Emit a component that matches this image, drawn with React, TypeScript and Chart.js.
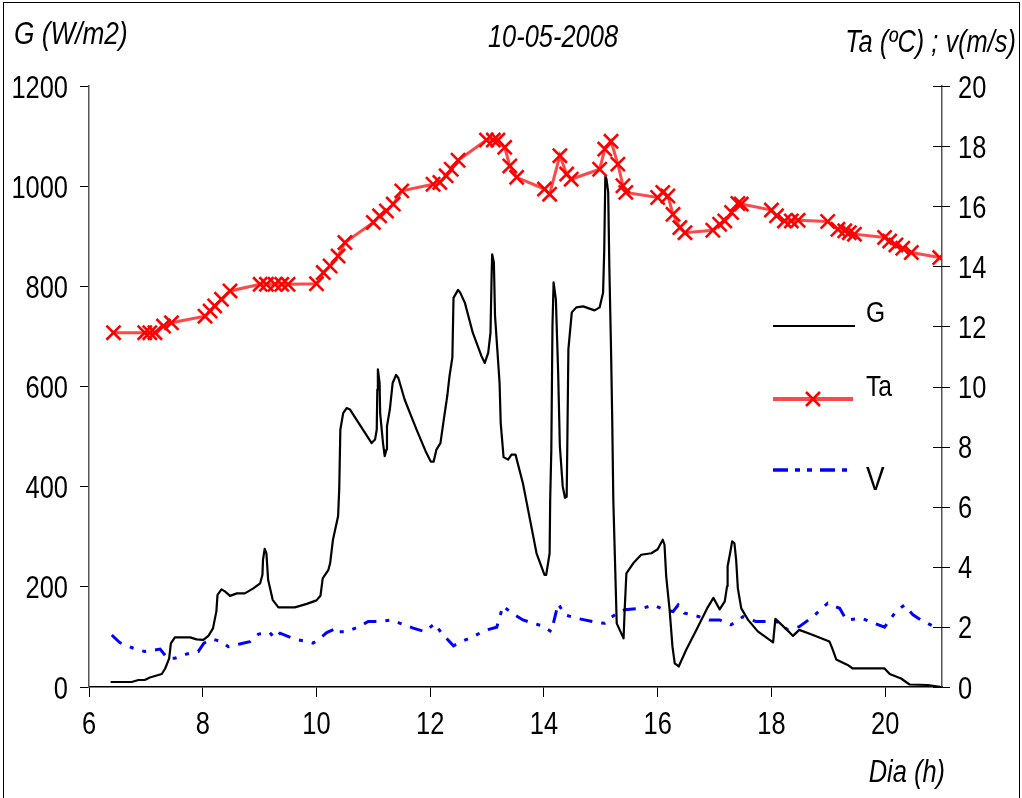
import React, { useEffect, useRef } from "react";
import { Chart, registerables } from "chart.js";

Chart.register(...registerables);

// ---- data (hours of the day) ----
const gHours = [
  6.38, 6.75, 6.87, 6.98, 7.07, 7.28, 7.34, 7.41, 7.44, 7.51, 7.78, 7.89, 8.01, 8.1, 8.18, 8.24, 8.26, 8.33, 8.39, 8.48,
  8.6, 8.74, 8.89, 9.01, 9.05, 9.06, 9.09, 9.12, 9.15, 9.19, 9.23, 9.33, 9.62, 9.83, 10.0, 10.07, 10.11, 10.21, 10.24, 10.29,
  10.38, 10.4, 10.42, 10.47, 10.53, 10.59, 10.97, 11.03, 11.06, 11.07, 11.08, 11.11, 11.12, 11.17, 11.2, 11.23, 11.24, 11.29,
  11.34, 11.4, 11.44, 11.55, 11.76, 11.93, 12.01, 12.06, 12.11, 12.18, 12.23, 12.3, 12.34, 12.39, 12.41, 12.49, 12.53, 12.61,
  12.75, 12.9, 12.96, 13.02, 13.06, 13.08, 13.09, 13.12, 13.14, 13.18, 13.22, 13.24, 13.29, 13.37, 13.43, 13.5, 13.63, 13.87,
  14.01, 14.04, 14.1, 14.11, 14.13, 14.15, 14.17, 14.21, 14.25, 14.28, 14.33, 14.37, 14.4, 14.41, 14.43, 14.49, 14.57, 14.69,
  14.89, 14.98, 15.04, 15.06, 15.08, 15.1, 15.13, 15.15, 15.18, 15.2, 15.22, 15.25, 15.28, 15.4, 15.42, 15.45, 15.57, 15.71,
  15.89, 16.0, 16.09, 16.12, 16.15, 16.21, 16.26, 16.3, 16.37, 16.5, 16.68, 16.88, 16.98, 17.09, 17.18, 17.22, 17.23, 17.28,
  17.31, 17.35, 17.38, 17.41, 17.47, 17.59, 17.76, 18.03, 18.07, 18.32, 18.38, 18.49, 18.73, 19.02, 19.07, 19.14, 19.34, 19.43,
  19.99, 20.08, 20.28, 20.43, 20.75, 20.99,
];
const gValues = [
  10, 10, 14, 14, 19, 26, 37, 57, 87, 99, 99, 95, 94, 102, 117, 151, 184, 195, 191, 182,
  187, 187, 197, 207, 224, 254, 276, 267, 214, 194, 174, 159, 159, 166, 173, 182, 217, 234, 247, 294,
  341, 394, 514, 547, 557, 554, 487, 494, 514, 594, 634, 607, 547, 487, 461, 474, 521, 554,
  607, 623, 617, 574, 514, 468, 450, 450, 474, 487, 527, 581, 621, 658, 777, 793, 787, 767,
  707, 661, 647, 667, 707, 821, 864, 847, 741, 674, 607, 527, 459, 454, 464, 464, 407, 267,
  224, 224, 267, 374, 474, 721, 808, 774, 628, 481, 401, 378, 380, 474, 674, 748, 758, 760,
  752, 758, 787, 870, 1020, 1014, 988, 840, 674, 541, 374, 250, 127, 97, 154, 227, 247, 264,
  267, 275, 294, 284, 221, 154, 81, 47, 41, 74, 114, 159, 178, 155, 171, 201, 241, 271,
  291, 287, 254, 197, 157, 134, 111, 89, 136, 109, 102, 114, 104, 91, 77, 55, 44, 37,
  37, 26, 17, 5, 4, 0,
];

const taHours = [
  6.43, 6.98, 7.07, 7.16, 7.31, 7.45, 8.04, 8.13, 8.21, 8.33, 8.48, 9.01, 9.12, 9.27, 9.39, 9.5, 10.0, 10.12, 10.24, 10.38,
  10.5, 11.0, 11.11, 11.23, 11.35, 11.5, 12.05, 12.17, 12.28, 12.37, 12.49, 12.99, 13.11, 13.19, 13.31, 13.4, 13.52, 14.01,
  14.1, 14.28, 14.4, 14.48, 14.98, 15.07, 15.18, 15.3, 15.39, 15.44, 16.0, 16.09, 16.18, 16.27, 16.39, 16.48, 16.97, 17.09,
  17.18, 17.3, 17.41, 17.47, 18.0, 18.09, 18.23, 18.35, 18.47, 18.99, 19.17, 19.29, 19.37, 19.46, 19.99, 20.08, 20.19, 20.31,
  20.46, 20.96,
];
const taValues = [
  11.79, 11.79, 11.79, 11.79, 12.01, 12.12, 12.34, 12.51, 12.68, 12.9, 13.18, 13.4, 13.4, 13.4, 13.4, 13.4, 13.42, 13.79, 14.01, 14.34,
  14.79, 15.46, 15.68, 15.84, 16.07, 16.51, 16.73, 16.79, 17.01, 17.23, 17.53, 18.2, 18.2, 18.2, 17.96, 17.34, 16.96, 16.57,
  16.4, 17.68, 17.07, 16.9, 17.23, 17.9, 18.16, 17.4, 16.68, 16.46, 16.29, 16.46, 16.34, 15.73, 15.29, 15.12, 15.2, 15.4,
  15.51, 15.79, 16.09, 16.07, 15.87, 15.68, 15.51, 15.51, 15.53, 15.49, 15.23, 15.18, 15.12, 15.07, 14.96, 14.84, 14.71, 14.6,
  14.46, 14.29,
];

const vHours = [
  6.4, 6.54, 6.78, 6.98, 7.25, 7.38, 7.51, 7.72, 7.92, 8.02, 8.18, 8.33, 8.45, 8.65, 8.83, 8.98, 9.18, 9.27, 9.36, 9.62,
  9.83, 9.94, 10.03, 10.18, 10.35, 10.38, 10.53, 10.73, 10.91, 11.11, 11.32, 11.47, 11.7, 11.91, 12.08, 12.2, 12.41, 12.55,
  12.76, 12.96, 13.17, 13.28, 13.4, 13.63, 13.81, 13.98, 14.13, 14.25, 14.37, 14.57, 14.95, 15.07, 15.16, 15.3, 15.42, 15.74,
  15.92, 16.12, 16.27, 16.36, 16.47, 16.73, 16.91, 17.09, 17.29, 17.5, 17.73, 18.09, 18.29, 18.49, 18.73, 18.99, 19.2, 19.32,
  19.58, 19.99, 20.19, 20.34, 20.49, 20.63, 20.84, 20.96,
];
const vValues = [
  1.73, 1.48, 1.29, 1.18, 1.26, 0.96, 0.96, 1.1, 1.18, 1.46, 1.59, 1.51, 1.34, 1.43, 1.51, 1.76, 1.81, 1.62, 1.79, 1.59,
  1.51, 1.46, 1.57, 1.81, 1.96, 1.84, 1.84, 1.99, 2.18, 2.18, 2.23, 2.12, 1.96, 1.84, 2.12, 1.79, 1.37, 1.51,
  1.68, 1.88, 1.99, 2.7, 2.51, 2.23, 2.12, 2.03, 1.84, 2.77, 2.4, 2.29, 2.14, 2.12, 2.29, 2.46, 2.57, 2.62,
  2.73, 2.57, 2.51, 2.73, 2.46, 2.34, 2.23, 2.23, 2.07, 2.34, 2.18, 2.18, 1.9, 2.01, 2.34, 2.79, 2.62, 2.23,
  2.29, 1.99, 2.51, 2.73, 2.4, 2.23, 2.03, 2.03,
];

const xTickValues = [6, 8, 10, 12, 14, 16, 18, 20];
const gTickValues = [0, 200, 400, 600, 800, 1000, 1200];
const rightTickValues = [0, 2, 4, 6, 8, 10, 12, 14, 16, 18, 20];
const seriesLabels = ["G", "Ta", "V"];
const chartTitle = "10-05-2008";
const leftAxisTitle = "G (W/m2)";
const rightAxisTitle = "Ta (ºC) ; v(m/s)";
const xAxisTitle = "Dia (h)";

const FONT = "'Liberation Sans', Arial, sans-serif";
const NARROW = 0.82;

const toXY = (xs: number[], ys: number[]) => xs.map((x, i) => ({ x, y: ys[i] }));

function narrowText(
  ctx: CanvasRenderingContext2D,
  text: string,
  x: number,
  y: number,
  align: CanvasTextAlign,
  size: number,
  italic: boolean
) {
  ctx.save();
  ctx.translate(x, y);
  ctx.scale(NARROW, 1);
  ctx.font = `${italic ? "italic " : ""}${size}px ${FONT}`;
  ctx.textAlign = align;
  ctx.textBaseline = "alphabetic";
  ctx.fillStyle = "#000";
  ctx.fillText(text, 0, 0);
  ctx.restore();
}

const overlayPlugin = {
  id: "overlay",
  afterDraw(chart: any) {
    const ctx = chart.ctx as CanvasRenderingContext2D;
    const area = chart.chartArea;
    const { x, y, y1 } = chart.scales;
    ctx.save();
    // right axis tick marks crossing the axis line
    ctx.strokeStyle = "#000";
    ctx.lineWidth = 1;
    y1.ticks.forEach((t: any) => {
      const py = Math.round(y1.getPixelForValue(t.value)) + 0.5;
      ctx.beginPath();
      ctx.moveTo(area.right - 9, py);
      ctx.lineTo(area.right + 8, py);
      ctx.stroke();
    });

    // tick labels (narrow font)
    const TS = 31;
    y.ticks.forEach((t: any) => {
      const py = y.getPixelForValue(t.value);
      narrowText(ctx, String(t.value), 68, py + 11.5, "right", TS, false);
    });
    y1.ticks.forEach((t: any) => {
      const py = y1.getPixelForValue(t.value);
      narrowText(ctx, String(t.value), 958, py + 11.5, "left", TS, false);
    });
    x.ticks.forEach((t: any) => {
      const px = x.getPixelForValue(t.value);
      narrowText(ctx, String(t.value), px, 734, "center", TS, false);
    });

    // titles
    narrowText(ctx, leftAxisTitle, 14, 44, "left", 32, true);
    narrowText(ctx, chartTitle, 553, 47, "center", 31, true);
    narrowText(ctx, rightAxisTitle, 1016, 52, "right", 31, true);
    narrowText(ctx, xAxisTitle, 945, 782, "right", 31, true);

    // legend
    const ds = chart.data.datasets;
    ctx.setLineDash([]);
    ctx.strokeStyle = ds[0].borderColor;
    ctx.lineWidth = 2.2;
    ctx.beginPath();
    ctx.moveTo(773, 326);
    ctx.lineTo(855, 326);
    ctx.stroke();

    ctx.strokeStyle = ds[1].borderColor;
    ctx.lineWidth = 4;
    ctx.beginPath();
    ctx.moveTo(773, 399);
    ctx.lineTo(853, 399);
    ctx.stroke();
    ctx.strokeStyle = ds[1].pointBorderColor;
    ctx.lineWidth = ds[1].pointBorderWidth;
    ctx.beginPath();
    ctx.moveTo(813 - 7, 392);
    ctx.lineTo(813 + 7, 406);
    ctx.moveTo(813 + 7, 392);
    ctx.lineTo(813 - 7, 406);
    ctx.stroke();

    ctx.strokeStyle = ds[2].borderColor;
    ctx.lineWidth = 3.5;
    ctx.setLineDash([15, 7, 5, 7, 5, 8]);
    ctx.beginPath();
    ctx.moveTo(773, 470);
    ctx.lineTo(847, 470);
    ctx.stroke();
    ctx.setLineDash([]);

    narrowText(ctx, seriesLabels[0], 866, 322, "left", 30, false);
    narrowText(ctx, seriesLabels[1], 866, 396, "left", 30, false);
    narrowText(ctx, seriesLabels[2], 866, 490, "left", 34, false);
    ctx.restore();
  },
};

export default function App() {
  const canvasRef = useRef<HTMLCanvasElement | null>(null);

  useEffect(() => {
    document.body.style.margin = "0";
    const canvas = canvasRef.current;
    if (!canvas) return;
    const chart = new Chart(canvas, {
      type: "line",
      data: {
        datasets: [
          {
            label: seriesLabels[0],
            data: toXY(gHours, gValues),
            yAxisID: "y",
            borderColor: "#000000",
            borderWidth: 2.2,
            pointRadius: 0,
            tension: 0,
            borderJoinStyle: "round",
            order: 1,
          },
          {
            label: seriesLabels[1],
            data: toXY(taHours, taValues),
            yAxisID: "y1",
            borderColor: "rgba(255,20,20,0.78)",
            borderWidth: 3,
            pointStyle: "crossRot",
            pointRadius: 10,
            pointBorderWidth: 2.6,
            pointBorderColor: "#ff0000",
            pointBackgroundColor: "#ff0000",
            tension: 0,
            order: 0,
          },
          {
            label: seriesLabels[2],
            data: toXY(vHours, vValues),
            yAxisID: "y1",
            borderColor: "#0000ff",
            borderWidth: 3,
            borderDash: [13, 9, 4, 9, 4, 9],
            pointRadius: 0,
            tension: 0,
            order: 2,
          },
        ],
      },
      options: {
        responsive: false,
        animation: false,
        devicePixelRatio: 1,
        layout: { padding: { top: 86, left: 0, right: 0, bottom: 0 } },
        plugins: {
          legend: { display: false },
          title: { display: false },
          tooltip: { enabled: false },
        },
        scales: {
          x: {
            type: "linear",
            position: "bottom",
            min: 6,
            max: 21,
            afterBuildTicks: (s: any) => {
              s.ticks = xTickValues.map((v) => ({ value: v }));
            },
            afterFit: (s: any) => {
              s.height = 111;
            },
            grid: { display: true, drawOnChartArea: false, drawTicks: true, tickLength: 10, color: "#000", lineWidth: 1 },
            border: { display: true, color: "#000", width: 1.5 },
            ticks: { display: false },
          },
          y: {
            type: "linear",
            position: "left",
            min: 0,
            max: 1200,
            afterBuildTicks: (s: any) => {
              s.ticks = gTickValues.map((v) => ({ value: v }));
            },
            afterFit: (s: any) => {
              s.width = 89;
            },
            grid: { display: true, drawOnChartArea: false, drawTicks: true, tickLength: 9, color: "#000", lineWidth: 1 },
            border: { display: true, color: "#555", width: 1.5 },
            ticks: { display: false },
          },
          y1: {
            type: "linear",
            position: "right",
            min: 0,
            max: 20,
            afterBuildTicks: (s: any) => {
              s.ticks = rightTickValues.map((v) => ({ value: v }));
            },
            afterFit: (s: any) => {
              s.width = 80;
            },
            grid: { display: false, drawOnChartArea: false, drawTicks: false },
            border: { display: true, color: "#555", width: 1.5 },
            ticks: { display: false },
          },
        },
      },
      plugins: [overlayPlugin],
    });
    return () => chart.destroy();
  }, []);

  return (
    <div style={{ position: "relative", width: 1022, height: 798, overflow: "hidden", background: "#fff" }}>
      <canvas ref={canvasRef} width={1022} height={798} style={{ position: "absolute", left: 0, top: 0 }} />
      <div
        style={{
          position: "absolute",
          left: 3,
          top: 2,
          width: 1015,
          height: 810,
          border: "1px solid #000",
          pointerEvents: "none",
        }}
      />
    </div>
  );
}
